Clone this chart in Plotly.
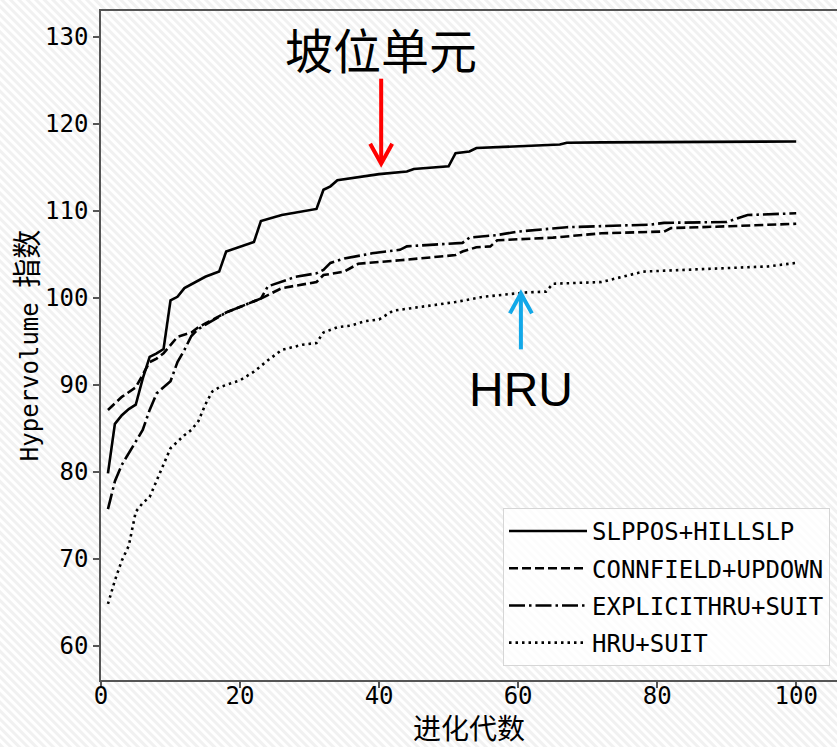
import base64
import plotly.graph_objects as go

# ---- data: hypervolume index per evolution generation ----
slppos_gen = [1, 2, 3, 4, 5, 6, 7, 8, 9, 10, 11, 12, 15, 17, 18, 22, 23, 26, 31, 32, 33, 34,
              40, 44, 45, 50, 51, 53, 54, 66, 67, 72, 100]
slppos_hv = [79.8, 85.5, 86.5, 87.2, 87.7, 90.7, 93.2, 93.6, 94.1, 99.7, 100.1, 101.1, 102.4,
             103.0, 105.3, 106.4, 108.8, 109.5, 110.2, 112.4, 112.8, 113.5, 114.2, 114.5, 114.8,
             115.1, 116.6, 116.8, 117.2, 117.6, 117.8, 117.85, 117.95]

connfield_gen = [1, 3, 5, 7, 8, 9, 11, 13, 14, 18, 23, 26, 31, 32, 35, 37, 43, 51, 52, 54, 56,
                 57, 65, 72, 81, 82, 90, 100]
connfield_hv = [87.1, 88.6, 89.7, 92.6, 93.0, 93.6, 95.5, 96.0, 96.6, 98.3, 99.9, 101.1, 101.8,
                102.6, 103.0, 103.9, 104.3, 104.9, 105.3, 105.8, 105.9, 106.6, 106.9, 107.4,
                107.6, 108.0, 108.2, 108.5]

explicit_gen = [1, 2, 3, 5, 6, 7, 8, 10, 11, 12, 13, 14, 18, 23, 24, 28, 31, 32, 33, 35, 39, 43,
                44, 52, 53, 57, 60, 67, 72, 79, 81, 90, 93, 100]
explicit_hv = [75.7, 78.9, 80.8, 83.5, 84.8, 87.1, 89.0, 90.4, 92.6, 94.0, 95.6, 96.4, 98.3, 99.9,
               101.3, 102.4, 102.8, 103.2, 104.0, 104.5, 105.1, 105.5, 105.9, 106.3, 106.9,
               107.2, 107.6, 108.1, 108.2, 108.4, 108.6, 108.7, 109.5, 109.7]

hru_gen = [1, 2, 3, 4, 5, 6, 7, 8, 9, 10, 12, 13, 14, 15, 16, 17, 20, 22, 24, 26, 29, 31, 32, 34,
           36, 38, 40, 42, 51, 55, 61, 64, 65, 72, 78, 96, 100]
hru_hv = [64.8, 67.5, 69.8, 71.5, 75.4, 76.4, 77.1, 79.0, 80.9, 82.7, 84.2, 84.8, 85.8, 87.7,
          89.2, 89.7, 90.5, 91.5, 92.8, 94.0, 94.6, 94.8, 96.0, 96.6, 96.8, 97.3, 97.5, 98.5,
          99.5, 100.1, 100.6, 100.7, 101.6, 101.8, 103.0, 103.6, 104.0]

series_names = ["SLPPOS+HILLSLP", "CONNFIELD+UPDOWN", "EXPLICITHRU+SUIT", "HRU+SUIT"]
series_gens = [slppos_gen, connfield_gen, explicit_gen, hru_gen]
series_vals = [slppos_hv, connfield_hv, explicit_hv, hru_hv]
series_dash = ["solid", "9px,4px", "16px,4px,2.5px,4px", "2.5px,4px"]

x_ticks = [0, 20, 40, 60, 80, 100]
y_ticks = [60, 70, 80, 90, 100, 110, 120, 130]

# callouts: (label, generation, hypervolume at arrow tip, label position)
callout_slppos = ("坡位单元", 40.3, 115.4, 128.7)
callout_hru = ("HRU", 60.4, 100.5, 89.5)

W, H = 837, 747
MONO = "DejaVu Sans Mono, Noto Sans CJK SC"

fig = go.Figure()
for name, g, v, d in zip(series_names, series_gens, series_vals, series_dash):
    fig.add_trace(go.Scatter(
        x=g, y=v, mode="lines", name=name, legendgroup=name,
        line=dict(color="black", width=2.6, dash=d),
    ))

# light diagonal hatch behind the whole figure
hatch_svg = (
    f'<svg xmlns="http://www.w3.org/2000/svg" width="{W}" height="{H}">'
    '<defs><pattern id="h" width="6" height="6" patternUnits="userSpaceOnUse" '
    'patternTransform="rotate(-45)">'
    '<rect width="6" height="6" fill="#ffffff"/><rect width="3" height="6" fill="#f1f1f1"/>'
    '</pattern></defs><rect width="100%" height="100%" fill="url(#h)"/></svg>'
)
hatch_uri = "data:image/svg+xml;base64," + base64.b64encode(hatch_svg.encode()).decode()

ml, mr, mt, mb = 101, 0, 11, 67
pw, ph = W - ml - mr, H - mt - mb

fig.add_layout_image(dict(
    source=hatch_uri, xref="paper", yref="paper",
    x=-ml / pw, y=1 + mt / ph, sizex=W / pw, sizey=H / ph,
    xanchor="left", yanchor="top", sizing="stretch", layer="below",
))

# arrows: shaft + open chevron head, anchored at the arrow tip
red_label, red_x, red_tip, red_text_y = callout_slppos
blue_label, blue_x, blue_tip, blue_text_y = callout_hru
arrow_shapes = [
    dict(type="path", xref="x", yref="y", xsizemode="pixel", ysizemode="pixel",
         xanchor=red_x, yanchor=red_tip, path="M0,2 L0,85",
         line=dict(color="#ff0000", width=4)),
    dict(type="path", xref="x", yref="y", xsizemode="pixel", ysizemode="pixel",
         xanchor=red_x, yanchor=red_tip, path="M-11,20 L0,0 L11,20",
         line=dict(color="#ff0000", width=4)),
    dict(type="path", xref="x", yref="y", xsizemode="pixel", ysizemode="pixel",
         xanchor=blue_x, yanchor=blue_tip, path="M0,-2 L0,-56",
         line=dict(color="#12a8e8", width=4)),
    dict(type="path", xref="x", yref="y", xsizemode="pixel", ysizemode="pixel",
         xanchor=blue_x, yanchor=blue_tip, path="M-11,-20 L0,0 L11,-20",
         line=dict(color="#12a8e8", width=4)),
]
for s in arrow_shapes:
    fig.add_shape(**s)

fig.add_annotation(x=red_x, y=red_text_y, text=red_label, showarrow=False,
                   font=dict(family="Noto Sans CJK SC", size=48, color="black"))
fig.add_annotation(x=blue_x, y=blue_text_y, text=blue_label, showarrow=False,
                   font=dict(family="Liberation Sans", size=48, color="black"))

axis_common = dict(
    showgrid=False, zeroline=False, showline=True, linecolor="#555555", linewidth=1.6,
    ticks="outside", ticklen=6, tickwidth=1.5, tickcolor="#555555",
    tickfont=dict(family=MONO, size=24, color="black"),
)

fig.update_layout(
    width=W, height=H,
    margin=dict(l=ml, r=mr, t=mt, b=mb, pad=0),
    paper_bgcolor="rgba(0,0,0,0)", plot_bgcolor="rgba(0,0,0,0)",
    xaxis=dict(**axis_common, range=[0, pw / 6.952], tickvals=x_ticks, mirror=True,
               ticklabelstandoff=-13,
               title=dict(text="进化代数", standoff=5,
                          font=dict(family="Noto Sans CJK SC", size=28, color="black"))),
    yaxis=dict(**axis_common, range=[56.06, 132.95], tickvals=y_ticks,
               title=dict(text="Hypervolume <span style='font-size:29px'>指数</span>",
                          standoff=0,
                          font=dict(family=MONO, size=24, color="black"))),
    legend=dict(
        x=0.9905, y=0.021, xanchor="right", yanchor="bottom",
        bgcolor="rgba(255,255,255,0.8)", bordercolor="#d6d6d6", borderwidth=1,
        font=dict(family=MONO, size=24, color="black"),
        itemwidth=78, tracegroupgap=3, traceorder="grouped",
    ),
    showlegend=True,
)

fig.write_html("out.html")
